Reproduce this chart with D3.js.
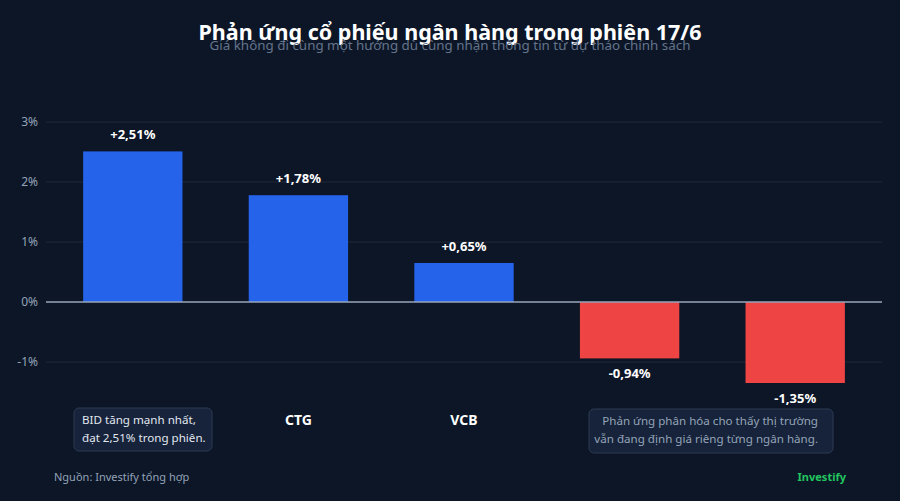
<!DOCTYPE html>
<html><head><meta charset="utf-8">
<script src="https://cdn.jsdelivr.net/npm/d3@7/dist/d3.min.js"></script>
<style>
html,body{margin:0;padding:0;background:#0c1627;}
svg{display:block;font-family:"Noto Sans",sans-serif;}
</style></head><body>
<svg id="c" width="900" height="501"></svg>
<script>
const categories = ["BID","CTG","VCB","TCB","MBB"];
const values = [2.51, 1.78, 0.65, -0.94, -1.35];
const valueLabels = ["+2,51%","+1,78%","+0,65%","-0,94%","-1,35%"];
const yTicks = [-1, 0, 1, 2, 3];
const yTickLabels = ["-1%","0%","1%","2%","3%"];

const svg = d3.select("#c");
svg.append("rect").attr("width",900).attr("height",501).attr("fill","#0c1627");

const x = d3.scaleBand().domain(categories).range([50,878]).paddingInner(0.4).paddingOuter(0.2);
const y = d3.scaleLinear().domain([-1.5,3.3]).range([392,104]);

// grid
const g = svg.append("g");
g.selectAll("line.grid").data(yTicks).join("line")
  .attr("x1",46).attr("x2",882)
  .attr("y1",d=>y(d)).attr("y2",d=>y(d))
  .attr("stroke","#1e293b").attr("stroke-width",1);
g.selectAll("text.tick").data(yTicks).join("text")
  .attr("x",38).attr("y",d=>y(d)).attr("dy","0.35em")
  .attr("text-anchor","end").attr("fill","#94a3b8").attr("font-size",12)
  .text((d,i)=>yTickLabels[i]);

// bars
svg.selectAll("rect.bar").data(values).join("rect")
  .attr("x",(d,i)=>x(categories[i]))
  .attr("width",x.bandwidth())
  .attr("y",d=>y(Math.max(0,d)))
  .attr("height",d=>Math.abs(y(d)-y(0)))
  .attr("fill",d=>d>=0?"#2563eb":"#ef4444");

// zero line
svg.append("line").attr("x1",46).attr("x2",882).attr("y1",y(0)).attr("y2",y(0))
  .attr("stroke","#94a3b8").attr("stroke-width",1.5);

// value labels
svg.selectAll("text.val").data(values).join("text")
  .attr("x",(d,i)=>x(categories[i])+x.bandwidth()/2)
  .attr("y",d=>d>=0?y(d)-12:y(d)+20)
  .attr("text-anchor","middle").attr("fill","#ffffff")
  .attr("font-size",13).attr("font-weight",700)
  .text((d,i)=>valueLabels[i]);

// category labels
svg.selectAll("text.cat").data(categories).join("text")
  .attr("x",d=>x(d)+x.bandwidth()/2).attr("y",425)
  .attr("text-anchor","middle").attr("fill","#ffffff")
  .attr("font-size",14).attr("font-weight",700)
  .text(d=>d);

// annotations
function box(x0,y0,w,h){
  svg.append("rect").attr("x",x0).attr("y",y0).attr("width",w).attr("height",h)
    .attr("rx",5).attr("fill","#17233a").attr("stroke","#2c3b52").attr("stroke-width",1);
}
box(74,408,138,43);
svg.append("text").attr("x",82).attr("y",424).attr("fill","#e2e8f0").attr("font-size",11.6)
  .text("BID tăng mạnh nhất,");
svg.append("text").attr("x",82).attr("y",442).attr("fill","#e2e8f0").attr("font-size",11.6)
  .text("đạt 2,51% trong phiên.");
box(589,409,244,44);
svg.append("text").attr("x",818).attr("y",425).attr("text-anchor","end").attr("fill","#94a3b8").attr("font-size",11.6)
  .text("Phản ứng phân hóa cho thấy thị trường");
svg.append("text").attr("x",818).attr("y",443).attr("text-anchor","end").attr("fill","#94a3b8").attr("font-size",11.6)
  .text("vẫn đang định giá riêng từng ngân hàng.");

// title
svg.append("text").attr("x",450).attr("y",40).attr("text-anchor","middle")
  .attr("fill","#ffffff").attr("font-size",21.5).attr("font-weight",700)
  .text("Phản ứng cổ phiếu ngân hàng trong phiên 17/6");
svg.append("text").attr("x",450).attr("y",50).attr("text-anchor","middle")
  .attr("fill","#64748b").attr("font-size",13.4)
  .text("Giá không đi cùng một hướng dù cùng nhận thông tin từ dự thảo chính sách");

// footer
svg.append("text").attr("x",54).attr("y",481).attr("fill","#94a3b8").attr("font-size",11)
  .text("Nguồn: Investify tổng hợp");
svg.append("text").attr("x",846).attr("y",481).attr("text-anchor","end").attr("fill","#22c55e")
  .attr("font-size",11).attr("font-weight",700).text("Investify");
</script>
</body></html>
